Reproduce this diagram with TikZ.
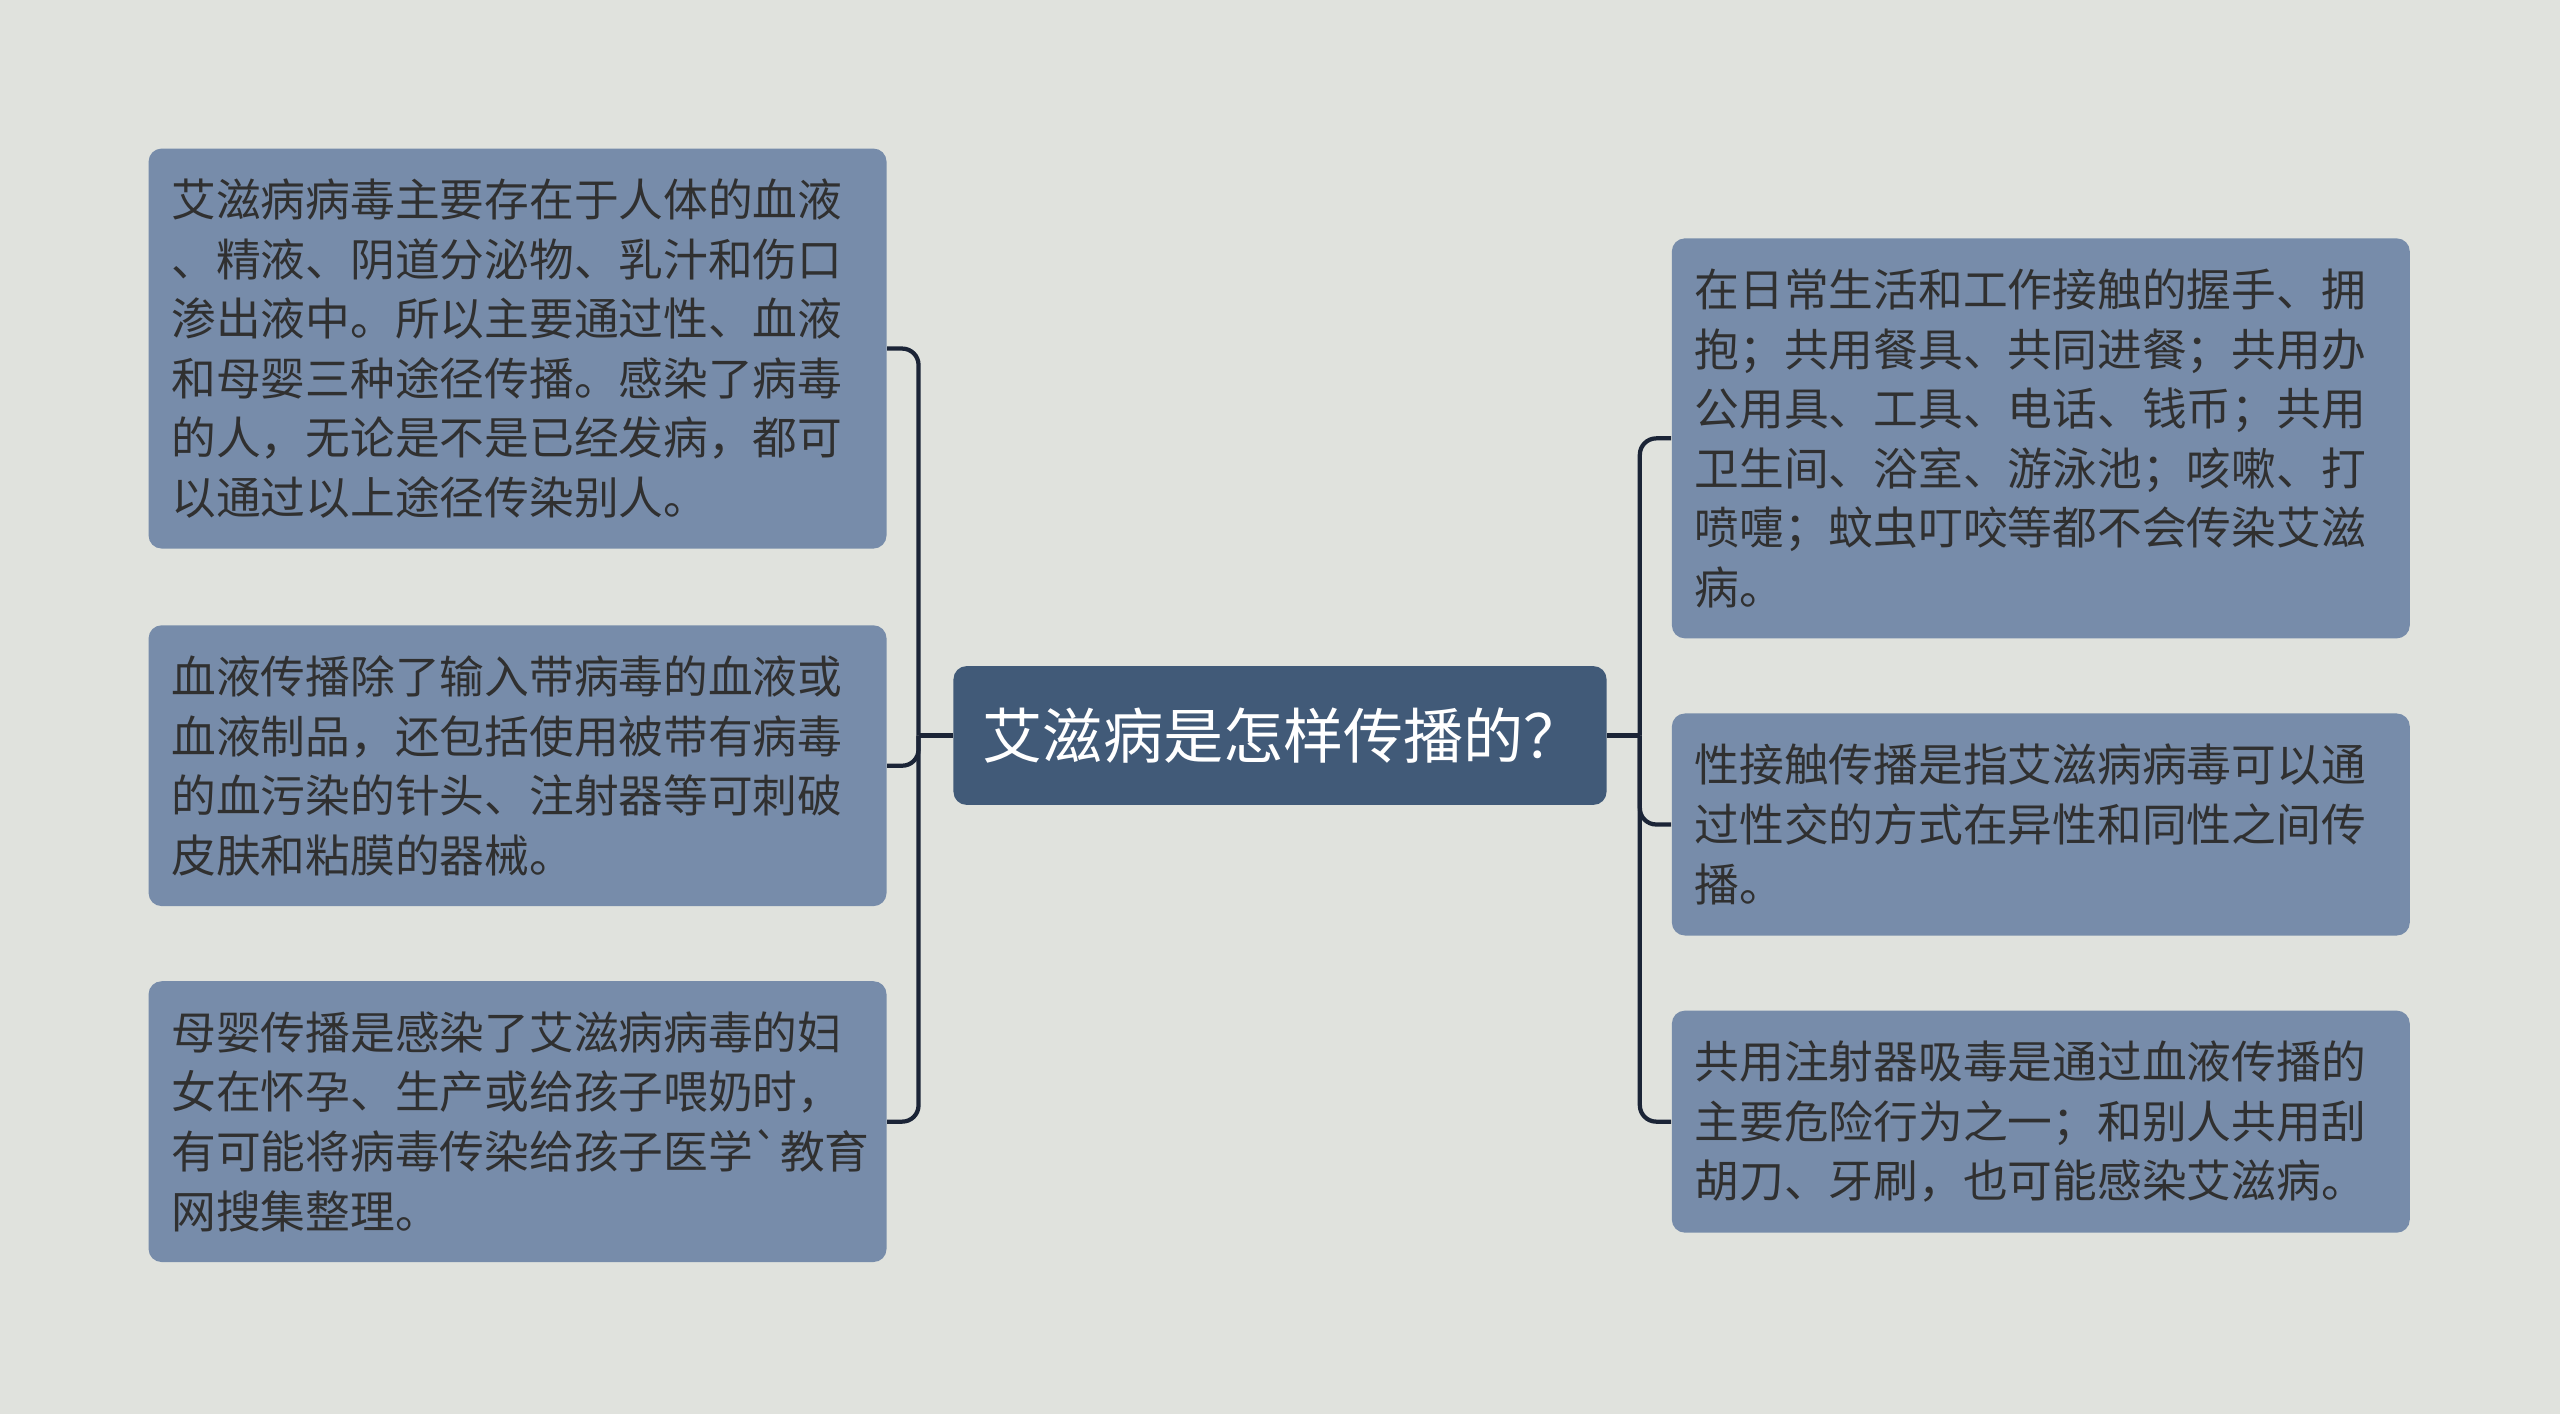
\documentclass[tikz,border=0pt]{standalone}
\usepackage{fontspec}
\newfontfamily\cjk{Noto Sans CJK SC}
\usepackage{tikz}
\usetikzlibrary{positioning}
\definecolor{bg}{HTML}{E0E2DD}
\definecolor{boxc}{HTML}{778CAA}
\definecolor{topc}{HTML}{415A78}
\definecolor{linec}{HTML}{1B2436}
\definecolor{txt}{HTML}{303030}

\begin{document}
\begin{tikzpicture}[x=0.5pt, y=-0.5pt,
  leaf/.style={rectangle, rounded corners=4pt, fill=boxc, text=txt, align=left,
    text width=212pt, inner xsep=7pt, inner ysep=0pt,
    font=\cjk\fontsize{13.7pt}{18.25pt}\selectfont},
  topic/.style={rectangle, rounded corners=4pt, fill=topc, text=white, align=left,
    text width=182pt, inner xsep=9pt, inner ysep=0pt, minimum height=42.5pt,
    font=\cjk\fontsize{18.4pt}{22pt}\selectfont},
  link/.style={draw=linec, line width=1.3pt, rounded corners=5pt}]
        \fill[bg] (0,0) rectangle (1568,866);

        \node[topic] (q) at (784,450.5) {艾滋病是怎样传播的？};
        \node[leaf, minimum height=122.5pt] (a1) at (317,213.5) {艾滋病病毒主要存在于人体的血液\\、精液、阴道分泌物、乳汁和伤口\\渗出液中。所以主要通过性、血液\\和母婴三种途径传播。感染了病毒\\的人，无论是不是已经发病，都可\\以通过以上途径传染别人。};
        \node[leaf, minimum height=86pt] (a2) at (317,469) {血液传播除了输入带病毒的血液或\\血液制品，还包括使用被带有病毒\\的血污染的针头、注射器等可刺破\\皮肤和粘膜的器械。};
        \node[leaf, minimum height=86pt] (a3) at (317,687) {母婴传播是感染了艾滋病病毒的妇\\女在怀孕、生产或给孩子喂奶时，\\有可能将病毒传染给孩子医学`教育\\网搜集整理。};
        \node[leaf, minimum height=122.5pt] (b1) at (1250,268.5) {在日常生活和工作接触的握手、拥\\抱；共用餐具、共同进餐；共用办\\公用具、工具、电话、钱币；共用\\卫生间、浴室、游泳池；咳嗽、打\\喷嚏；蚊虫叮咬等都不会传染艾滋\\病。};
        \node[leaf, minimum height=68pt] (b2) at (1250,505) {性接触传播是指艾滋病病毒可以通\\过性交的方式在异性和同性之间传\\播。};
        \node[leaf, minimum height=68pt] (b3) at (1250,687) {共用注射器吸毒是通过血液传播的\\主要危险行为之一；和别人共用刮\\胡刀、牙刷，也可能感染艾滋病。};

        \coordinate[left=10.5pt of q.west] (lj);
        \coordinate[right=10pt of q.east] (rj);

        \draw[link] (q.west) -- (lj);
        \draw[link] (q.east) -- (rj);
        \draw[link] (lj) |- (a1.east);
        \draw[link] (lj) |- (a2.east);
        \draw[link] (lj) |- (a3.east);
        \draw[link] (rj) |- (b1.west);
        \draw[link] (rj) |- (b2.west);
        \draw[link] (rj) |- (b3.west);
    \end{tikzpicture}
\end{document}
